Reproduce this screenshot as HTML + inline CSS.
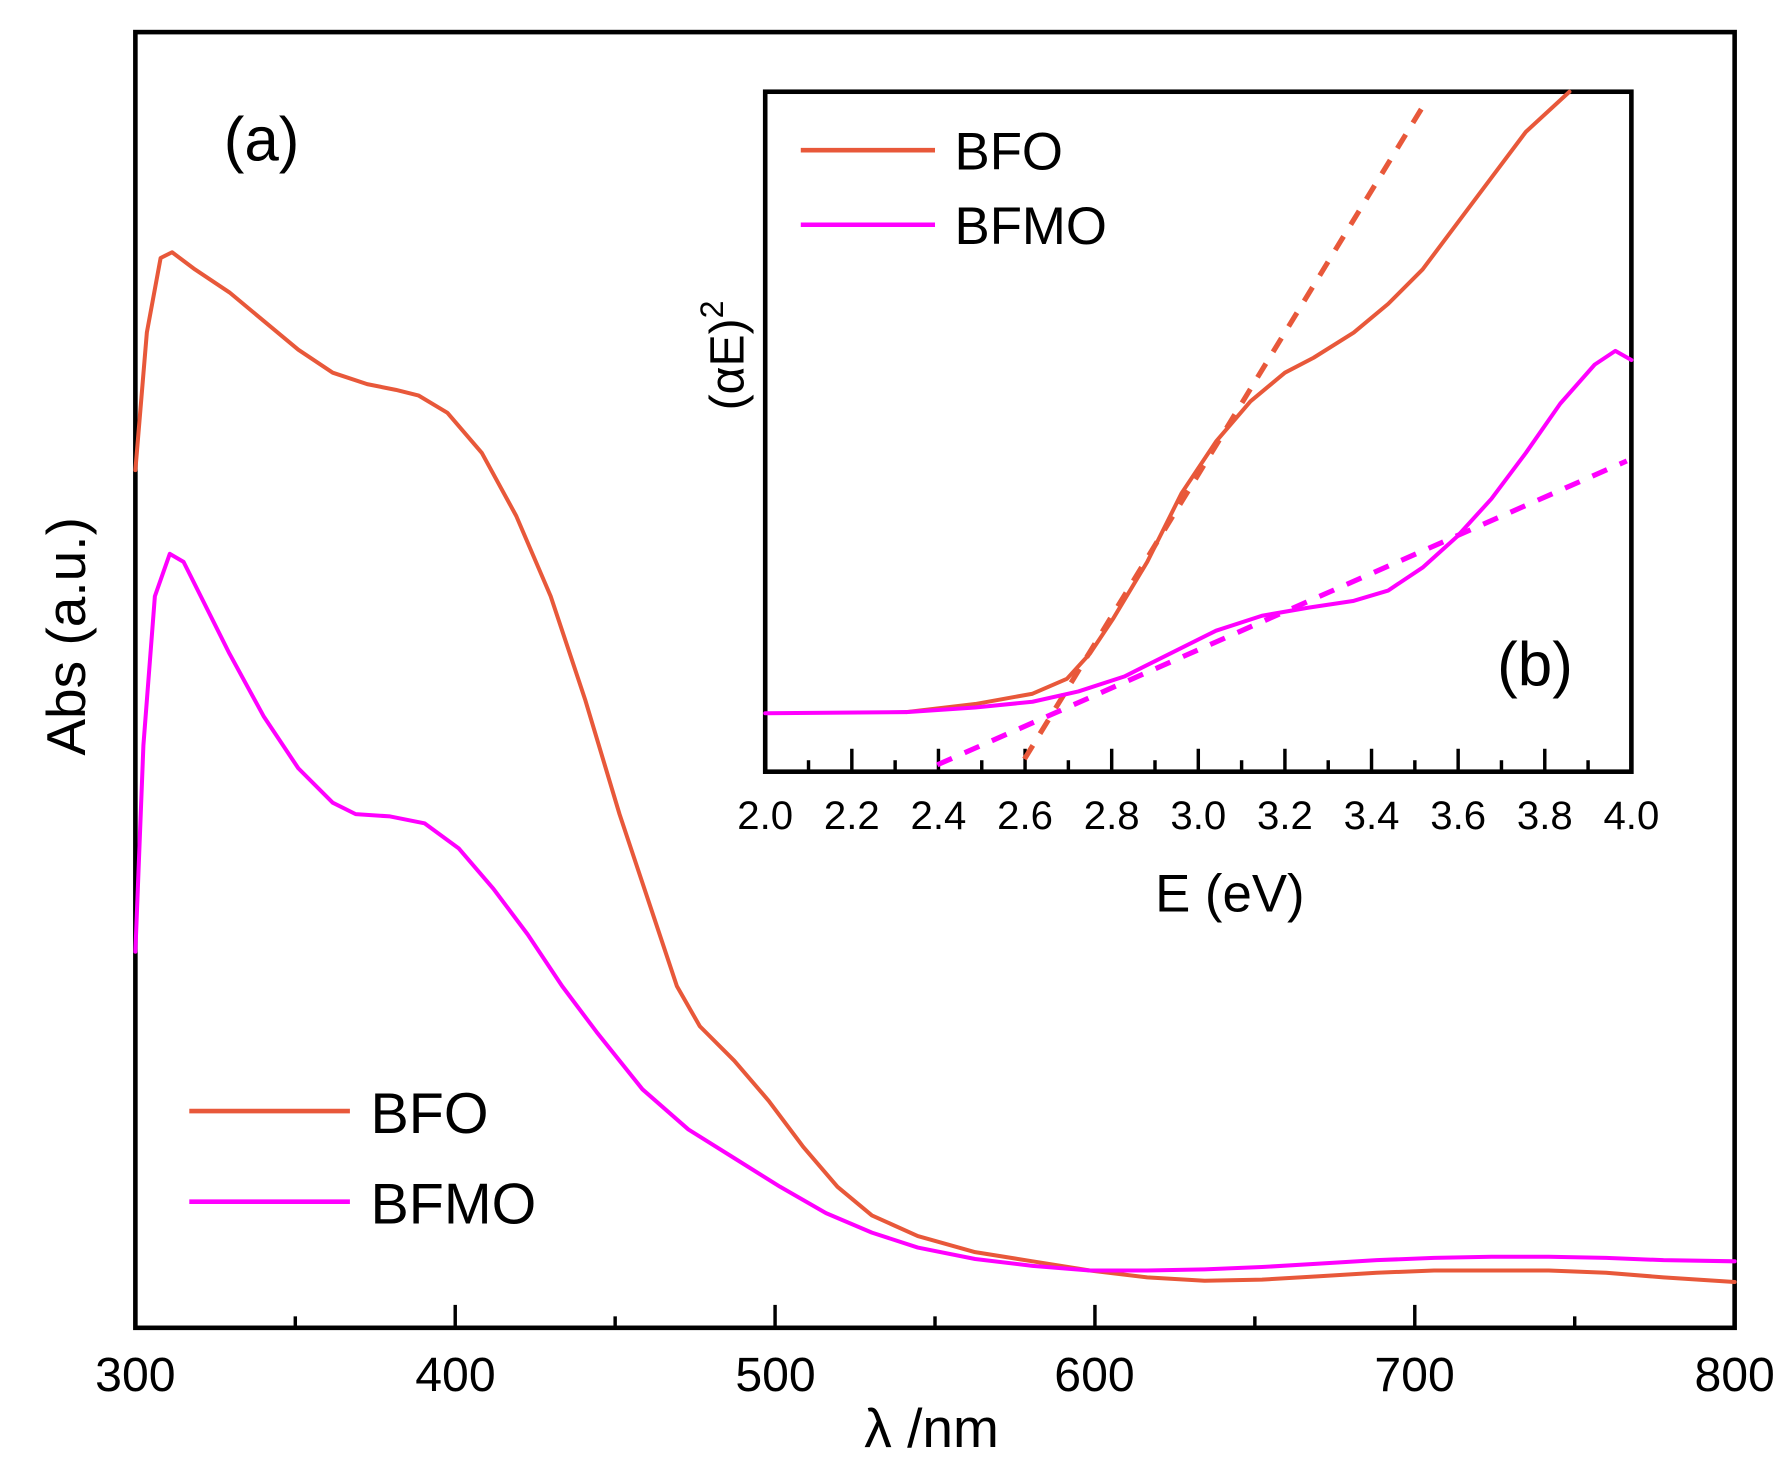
<!DOCTYPE html>
<html><head><meta charset="utf-8"><style>
html,body{margin:0;padding:0;background:#fff;}
svg{display:block;}
text{font-family:"Liberation Sans",sans-serif;fill:#000;}
</style></head><body>
<svg width="1792" height="1470" viewBox="0 0 1562 1282" preserveAspectRatio="none" xmlns="http://www.w3.org/2000/svg">
<rect width="1562" height="1282" fill="#fff"/>
<rect x="118" y="28" width="1394" height="1130" fill="none" stroke="#000" stroke-width="4"/>
<g stroke="#000" stroke-width="3">
<line x1="118" y1="1158" x2="118" y2="1138"/><line x1="257.4" y1="1158" x2="257.4" y2="1148"/>
<line x1="396.8" y1="1158" x2="396.8" y2="1138"/><line x1="536.2" y1="1158" x2="536.2" y2="1148"/>
<line x1="675.6" y1="1158" x2="675.6" y2="1138"/><line x1="815" y1="1158" x2="815" y2="1148"/>
<line x1="954.4" y1="1158" x2="954.4" y2="1138"/><line x1="1093.8" y1="1158" x2="1093.8" y2="1148"/>
<line x1="1233.2" y1="1158" x2="1233.2" y2="1138"/><line x1="1372.6" y1="1158" x2="1372.6" y2="1148"/>
</g>
<g font-size="42" text-anchor="middle">
<text x="118" y="1213">300</text><text x="397" y="1213">400</text><text x="676" y="1213">500</text>
<text x="954" y="1213">600</text><text x="1233" y="1213">700</text><text x="1512" y="1213">800</text>
</g>
<text x="812" y="1262" font-size="48" text-anchor="middle">λ /nm</text>
<text transform="translate(74,555) rotate(-90)" font-size="48" text-anchor="middle">Abs (a.u.)</text>
<text x="195" y="140" font-size="54">(a)</text>
<g fill="none" stroke-width="3.5" stroke-linejoin="round" stroke-linecap="round">
<polyline stroke="#e8583a" points="118,410 128,290 140,225 150,220 170,235 200,255 230,280 260,305 290,325 320,335 345,340 365,345 390,360 420,395 450,450 480,520 510,610 540,710 570,800 590,860 610,895 640,925 670,960 700,1000 730,1035 760,1060 800,1078 850,1092 900,1100 950,1108 1000,1114 1050,1117 1100,1116 1150,1113 1200,1110 1250,1108 1300,1108 1350,1108 1400,1110 1450,1114 1512,1118"/>
<polyline stroke="#ff00ff" points="118,830 125,650 135,520 148,483 160,490 175,520 200,570 230,625 260,670 290,700 310,710 340,712 370,718 400,740 430,775 460,815 490,860 520,900 560,950 600,985 640,1010 680,1035 720,1058 760,1075 800,1088 850,1098 900,1104 950,1108 1000,1108 1050,1107 1100,1105 1150,1102 1200,1099 1250,1097 1300,1096 1350,1096 1400,1097 1450,1099 1512,1100"/>
</g>
<line x1="165" y1="969" x2="305" y2="969" stroke="#e8583a" stroke-width="4"/>
<text x="323" y="988" font-size="50">BFO</text>
<line x1="165" y1="1048" x2="305" y2="1048" stroke="#ff00ff" stroke-width="4"/>
<text x="323" y="1067" font-size="50">BFMO</text>
<rect x="667" y="80" width="755" height="593" fill="#fff" stroke="#000" stroke-width="4"/>
<g stroke="#000" stroke-width="3">
<line x1="704.75" y1="673" x2="704.75" y2="663"/><line x1="742.5" y1="673" x2="742.5" y2="653"/>
<line x1="780.25" y1="673" x2="780.25" y2="663"/><line x1="818" y1="673" x2="818" y2="653"/>
<line x1="855.75" y1="673" x2="855.75" y2="663"/><line x1="893.5" y1="673" x2="893.5" y2="653"/>
<line x1="931.25" y1="673" x2="931.25" y2="663"/><line x1="969" y1="673" x2="969" y2="653"/>
<line x1="1006.75" y1="673" x2="1006.75" y2="663"/><line x1="1044.5" y1="673" x2="1044.5" y2="653"/>
<line x1="1082.25" y1="673" x2="1082.25" y2="663"/><line x1="1120" y1="673" x2="1120" y2="653"/>
<line x1="1157.75" y1="673" x2="1157.75" y2="663"/><line x1="1195.5" y1="673" x2="1195.5" y2="653"/>
<line x1="1233.25" y1="673" x2="1233.25" y2="663"/><line x1="1271" y1="673" x2="1271" y2="653"/>
<line x1="1308.75" y1="673" x2="1308.75" y2="663"/><line x1="1346.5" y1="673" x2="1346.5" y2="653"/>
<line x1="1384.25" y1="673" x2="1384.25" y2="663"/>
</g>
<g font-size="35" text-anchor="middle">
<text x="667" y="723">2.0</text><text x="742.5" y="723">2.2</text><text x="818" y="723">2.4</text>
<text x="893.5" y="723">2.6</text><text x="969" y="723">2.8</text><text x="1044.5" y="723">3.0</text>
<text x="1120" y="723">3.2</text><text x="1195.5" y="723">3.4</text><text x="1271" y="723">3.6</text>
<text x="1346.5" y="723">3.8</text><text x="1422" y="723">4.0</text>
</g>
<text x="1072" y="795" font-size="46" text-anchor="middle">E (eV)</text>
<text transform="translate(648,310) rotate(-90)" font-size="42" text-anchor="middle">(αE)<tspan font-size="28" dy="-18">2</tspan></text>
<text x="1305" y="598" font-size="54">(b)</text>
<line x1="893" y1="662" x2="1242" y2="90" stroke="#e8583a" stroke-width="4.5" stroke-dasharray="14,12"/>
<line x1="817" y1="667" x2="1418" y2="402" stroke="#ff00ff" stroke-width="4.5" stroke-dasharray="14,12"/>
<g fill="none" stroke-width="3.5" stroke-linejoin="round" stroke-linecap="round">
<polyline stroke="#e8583a" points="790,621 850,614 900,605 930,592 950,570 970,540 1000,490 1030,430 1060,385 1090,350 1120,325 1145,312 1180,290 1210,265 1240,235 1270,195 1300,155 1330,115 1368,80"/>
<polyline stroke="#ff00ff" points="667,622 790,621 850,617 900,612 940,603 980,590 1020,570 1060,550 1100,537 1140,530 1180,524 1210,515 1240,495 1270,468 1300,435 1330,395 1360,352 1390,318 1408,306 1422,314"/>
</g>
<line x1="698" y1="131" x2="815" y2="131" stroke="#e8583a" stroke-width="4"/>
<text x="832" y="148" font-size="46">BFO</text>
<line x1="698" y1="196" x2="815" y2="196" stroke="#ff00ff" stroke-width="4"/>
<text x="832" y="213" font-size="46">BFMO</text>
</svg>
</body></html>
